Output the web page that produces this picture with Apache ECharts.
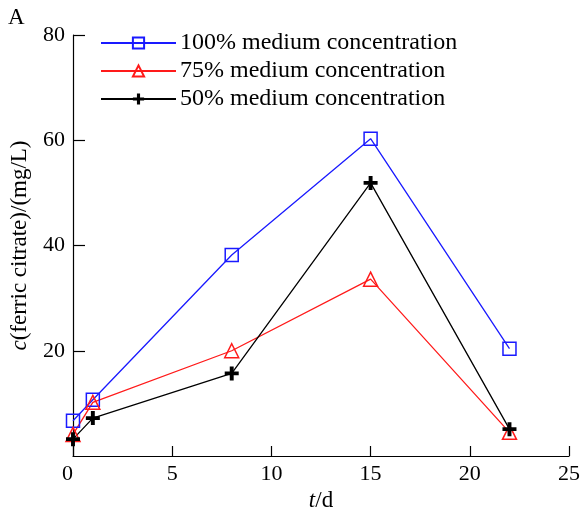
<!DOCTYPE html>
<html>
<head>
<meta charset="utf-8">
<script src="https://cdn.jsdelivr.net/npm/echarts@6/dist/echarts.min.js"></script>
<style>
  html, body { margin: 0; padding: 0; background: #fff; }
  #chart { width: 580px; height: 511px; }
</style>
</head>
<body>
<div id="chart"></div>
<script>
  // time in days
  const days = [0, 1, 8, 15, 22];
  const conc100 = [6.7, 10.7, 38.2, 60.3, 20.4];
  const conc75 = [4.1, 10.2, 20.0, 33.6, 4.5];
  const conc50 = [3.2, 7.2, 15.7, 51.9, 5.1];
  const seriesNames = ['100% medium concentration', '75% medium concentration', '50% medium concentration'];

  const font = 'Liberation Serif';
  const plusPath = 'path://M3.6,0H6.4V3.6H10V6.4H6.4V10H3.6V6.4H0V3.6H3.6Z';

  function pairs(vals) {
    return days.map((d, i) => [d, vals[i]]);
  }

  const chart = echarts.init(document.getElementById('chart'));
  const option = {
    animation: false,
    textStyle: { fontFamily: font, color: '#000' },
    graphic: [{
      type: 'text', left: 8, top: 6,
      style: { text: 'A', font: '23px "Liberation Serif"', fill: '#000' }
    }],
    grid: { left: 73, right: 11, top: 35, bottom: 55, outerBoundsMode: 'none' },
    legend: {
      orient: 'vertical',
      left: 100,
      top: 31,
      padding: 0,
      itemWidth: 75,
      itemHeight: 14,
      itemGap: 4,
      textStyle: { fontFamily: font, fontSize: 24, lineHeight: 24, color: '#000', padding: [0, 0, 0, -1] },
      data: seriesNames
    },
    xAxis: {
      type: 'value',
      min: 0, max: 25, interval: 5,
      name: '{i|t}/d',
      nameLocation: 'middle',
      nameGap: 33,
      nameTextStyle: {
        fontFamily: font, fontSize: 23, color: '#000',
        rich: { i: { fontFamily: font, fontSize: 23, fontStyle: 'italic' } }
      },
      axisLine: { lineStyle: { color: '#000', width: 1.2 } },
      axisTick: { inside: true, length: 10, lineStyle: { color: '#000', width: 1.2 } },
      axisLabel: { fontFamily: font, fontSize: 22, color: '#000', margin: 7, alignMinLabel: 'right' },
      splitLine: { show: false }
    },
    yAxis: {
      type: 'value',
      min: 0, max: 80, interval: 20,
      name: '{i|c}(ferric citrate)/(mg/L)',
      nameLocation: 'middle',
      nameGap: 42,
      nameTextStyle: {
        fontFamily: font, fontSize: 23, color: '#000',
        rich: { i: { fontFamily: font, fontSize: 23, fontStyle: 'italic' } }
      },
      axisLine: { show: true, lineStyle: { color: '#000', width: 1.2 } },
      axisTick: { inside: true, length: 12, lineStyle: { color: '#000', width: 1.2 } },
      axisLabel: { fontFamily: font, fontSize: 22, color: '#000', margin: 8, showMinLabel: false },
      splitLine: { show: false }
    },
    series: [
      {
        name: seriesNames[0], type: 'line', data: pairs(conc100),
        symbol: 'rect', symbolSize: 13,
        lineStyle: { color: '#1a1aff', width: 1.3 },
        itemStyle: { color: 'rgba(255,255,255,0)', borderColor: '#1a1aff', borderWidth: 1.5 }
      },
      {
        name: seriesNames[1], type: 'line', data: pairs(conc75),
        symbol: 'triangle', symbolSize: 14,
        lineStyle: { color: '#ff1a1a', width: 1.3 },
        itemStyle: { color: 'rgba(255,255,255,0)', borderColor: '#ff1a1a', borderWidth: 1.5 }
      },
      {
        name: seriesNames[2], type: 'line', data: pairs(conc50),
        symbol: plusPath, symbolSize: 14,
        lineStyle: { color: '#000', width: 1.3 },
        itemStyle: { color: '#000' }
      }
    ]
  };
  chart.setOption(option);
</script>
</body>
</html>
